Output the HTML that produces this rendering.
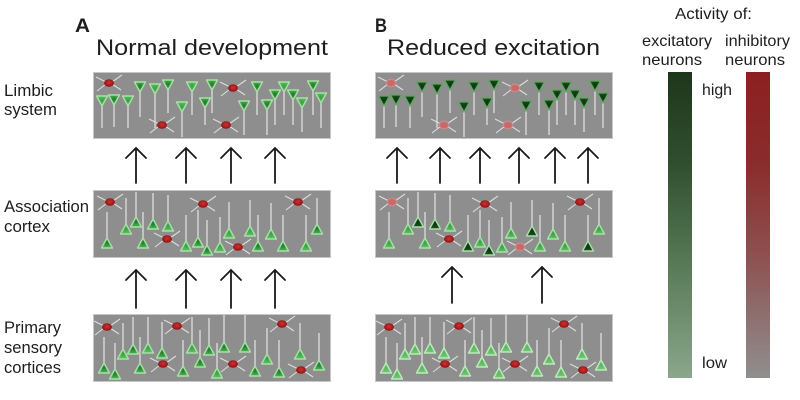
<!DOCTYPE html>
<html><head><meta charset="utf-8"><style>
html,body{margin:0;padding:0;background:#fff;}
svg{display:block;}
text{font-family:"Liberation Sans",Arial,sans-serif;fill:#1e1e1e;}
polygon{stroke-linejoin:round;}
</style></head><body>
<svg width="800" height="400" viewBox="0 0 800 400" xmlns="http://www.w3.org/2000/svg">
<defs>
<radialGradient id="gN" cx="50%" cy="45%" r="55%"><stop offset="0" stop-color="#1f7a2c"/><stop offset="1" stop-color="#4fb552"/></radialGradient>
<radialGradient id="gL" cx="50%" cy="45%" r="55%"><stop offset="0" stop-color="#3a9e44"/><stop offset="1" stop-color="#62c264"/></radialGradient>
<radialGradient id="gD" cx="50%" cy="45%" r="55%"><stop offset="0" stop-color="#0e3312"/><stop offset="1" stop-color="#1d4f20"/></radialGradient>
<radialGradient id="gP" cx="50%" cy="45%" r="55%"><stop offset="0" stop-color="#5cb35e"/><stop offset="1" stop-color="#78c77a"/></radialGradient>
<radialGradient id="rS" cx="50%" cy="45%" r="55%"><stop offset="0" stop-color="#d23030"/><stop offset="1" stop-color="#8a1414"/></radialGradient>
<radialGradient id="rF" cx="50%" cy="50%" r="55%"><stop offset="0" stop-color="#c46a6a"/><stop offset="0.6" stop-color="#c86a6a"/><stop offset="1" stop-color="#eaa0a0"/></radialGradient>
<linearGradient id="barG" x1="0" y1="0" x2="0" y2="1"><stop offset="0" stop-color="#1f361c"/><stop offset="0.3" stop-color="#304f2f"/><stop offset="0.6" stop-color="#547652"/><stop offset="1" stop-color="#8aa68c"/></linearGradient>
<linearGradient id="barR" x1="0" y1="0" x2="0" y2="1"><stop offset="0" stop-color="#8c2020"/><stop offset="0.3" stop-color="#8a2c2c"/><stop offset="0.6" stop-color="#8e5050"/><stop offset="1" stop-color="#8f8f8f"/></linearGradient>
<g id="red"><g stroke="#dcdcdc" stroke-width="1.1" fill="none"><path d="M-3,-1 L-13,-6"/><path d="M3,-1 L13,-8"/><path d="M-3,1 L-12,8"/><path d="M3,1 L12,7"/></g></g>
</defs>

<!-- labels -->
<text x="75" y="32" font-size="19" font-weight="bold" textLength="15" lengthAdjust="spacingAndGlyphs">A</text>
<text x="96" y="55" font-size="22" textLength="232" lengthAdjust="spacingAndGlyphs">Normal development</text>
<text x="375" y="32" font-size="19" font-weight="bold" textLength="12" lengthAdjust="spacingAndGlyphs">B</text>
<text x="387" y="55" font-size="22" textLength="213" lengthAdjust="spacingAndGlyphs">Reduced excitation</text>

<text x="4" y="96" font-size="17" textLength="49" lengthAdjust="spacingAndGlyphs">Limbic</text>
<text x="4" y="115" font-size="17" textLength="53" lengthAdjust="spacingAndGlyphs">system</text>
<text x="4" y="212" font-size="17" textLength="85" lengthAdjust="spacingAndGlyphs">Association</text>
<text x="4" y="232" font-size="17" textLength="46" lengthAdjust="spacingAndGlyphs">cortex</text>
<text x="4" y="333" font-size="17" textLength="57" lengthAdjust="spacingAndGlyphs">Primary</text>
<text x="4" y="353" font-size="17" textLength="58" lengthAdjust="spacingAndGlyphs">sensory</text>
<text x="4" y="373" font-size="17" textLength="57" lengthAdjust="spacingAndGlyphs">cortices</text>

<!-- legend -->
<text x="675" y="19" font-size="15.5" textLength="77" lengthAdjust="spacingAndGlyphs">Activity of:</text>
<text x="642" y="46" font-size="16" textLength="70" lengthAdjust="spacingAndGlyphs">excitatory</text>
<text x="642" y="65" font-size="16" textLength="60" lengthAdjust="spacingAndGlyphs">neurons</text>
<text x="725" y="46" font-size="16" textLength="65" lengthAdjust="spacingAndGlyphs">inhibitory</text>
<text x="725" y="65" font-size="16" textLength="60" lengthAdjust="spacingAndGlyphs">neurons</text>
<rect x="668" y="72" width="24" height="306" fill="url(#barG)"/>
<rect x="746" y="72" width="24" height="306" fill="url(#barR)"/>
<text x="702" y="95" font-size="16" textLength="30" lengthAdjust="spacingAndGlyphs">high</text>
<text x="702" y="368" font-size="16" textLength="25" lengthAdjust="spacingAndGlyphs">low</text>

<!-- arrows -->
<g stroke="#1a1a1a" stroke-width="1.8" fill="none" stroke-linecap="round">
<path d="M136,183V148M126,158L136,148L146,158"/>
<path d="M186,183V148M176,158L186,148L196,158"/>
<path d="M231,183V148M221,158L231,148L241,158"/>
<path d="M275,183V148M265,158L275,148L285,158"/>
<path d="M136,308V270M126,280L136,270L146,280"/>
<path d="M186,308V270M176,280L186,270L196,280"/>
<path d="M231,308V270M221,280L231,270L241,280"/>
<path d="M275,308V270M265,280L275,270L285,280"/>
<path d="M397,183V148M387,158L397,148L407,158"/>
<path d="M440,183V148M430,158L440,148L450,158"/>
<path d="M480,183V148M470,158L480,148L490,158"/>
<path d="M519,183V148M509,158L519,148L529,158"/>
<path d="M555,183V148M545,158L555,148L565,158"/>
<path d="M588,183V148M578,158L588,148L598,158"/>
<path d="M452,303V267M442,277L452,267L462,277"/>
<path d="M542,303V267M532,277L542,267L552,277"/>
</g>

<!-- boxes -->
<g fill="#8e8e8e" stroke="#c6c6cc" stroke-width="1">
<rect x="93.5" y="72.5" width="237" height="66"/>
<rect x="93.5" y="190.5" width="237" height="67"/>
<rect x="93.5" y="314.5" width="237" height="67"/>
<rect x="375.5" y="72.5" width="237" height="66"/>
<rect x="375.5" y="190.5" width="237" height="67"/>
<rect x="375.5" y="314.5" width="237" height="67"/>
</g>

<!-- ===== Panel A limbic ===== -->
<g stroke="#d4d4d4" stroke-width="1.5" fill="none">
<path d="M102,104V128M114,103V127M128,104V128M140,90V117M155,92V128M168,88V113M182,110V137M192,90V115M205,106V125M212,88V113M244,109V135M257,90V115M267,108V135M275,98V125M284,90V115M293,98V125M302,106V132M313,89V115M321,101V128"/>
</g>
<g stroke="#a6e0a6" stroke-width="1.4">
<polygon fill="url(#gL)" points="96.5,96 107.5,96 102,106"/>
<polygon fill="url(#gN)" points="108.5,95 119.5,95 114,105"/>
<polygon fill="url(#gL)" points="122.5,96 133.5,96 128,106"/>
<polygon fill="url(#gN)" points="134.5,82 145.5,82 140,92"/>
<polygon fill="url(#gL)" points="149.5,84 160.5,84 155,94"/>
<polygon fill="url(#gN)" points="162.5,80 173.5,80 168,90"/>
<polygon fill="url(#gL)" points="176.5,102 187.5,102 182,112"/>
<polygon fill="url(#gL)" points="186.5,82 197.5,82 192,92"/>
<polygon fill="url(#gN)" points="199.5,98 210.5,98 205,108"/>
<polygon fill="url(#gN)" points="206.5,80 217.5,80 212,90"/>
<polygon fill="url(#gN)" points="238.5,101 249.5,101 244,111"/>
<polygon fill="url(#gN)" points="251.5,82 262.5,82 257,92"/>
<polygon fill="url(#gN)" points="261.5,100 272.5,100 267,110"/>
<polygon fill="url(#gN)" points="269.5,90 280.5,90 275,100"/>
<polygon fill="url(#gL)" points="278.5,82 289.5,82 284,92"/>
<polygon fill="url(#gN)" points="287.5,90 298.5,90 293,100"/>
<polygon fill="url(#gL)" points="296.5,98 307.5,98 302,108"/>
<polygon fill="url(#gN)" points="307.5,81 318.5,81 313,91"/>
<polygon fill="url(#gL)" points="315.5,93 326.5,93 321,103"/>
</g>
<use href="#red" x="109" y="83"/><use href="#red" x="233" y="88"/><use href="#red" x="162" y="125"/><use href="#red" x="226" y="125"/>
<g fill="url(#rS)"><ellipse cx="109" cy="83" rx="5" ry="3.8"/><ellipse cx="233" cy="88" rx="5" ry="3.8"/><ellipse cx="162" cy="125" rx="5" ry="3.8"/><ellipse cx="226" cy="125" rx="5" ry="3.8"/></g>

<!-- ===== Panel B limbic ===== -->
<g transform="translate(282,0)">
<g stroke="#d4d4d4" stroke-width="1.5" fill="none">
<path d="M102,104V128M114,103V127M128,104V128M140,90V117M155,92V128M168,88V113M182,110V137M192,90V115M205,106V125M212,88V113M244,109V135M257,90V115M267,108V135M275,98V125M284,90V115M293,98V125M302,106V132M313,89V115M321,101V128"/>
</g>
<g stroke="#5fa85f" stroke-width="1.3" fill="url(#gD)">
<polygon points="96.5,96 107.5,96 102,106"/>
<polygon points="108.5,95 119.5,95 114,105"/>
<polygon points="122.5,96 133.5,96 128,106"/>
<polygon points="134.5,82 145.5,82 140,92"/>
<polygon points="149.5,84 160.5,84 155,94"/>
<polygon points="162.5,80 173.5,80 168,90"/>
<polygon points="176.5,102 187.5,102 182,112"/>
<polygon points="186.5,82 197.5,82 192,92"/>
<polygon points="199.5,98 210.5,98 205,108"/>
<polygon points="206.5,80 217.5,80 212,90"/>
<polygon points="238.5,101 249.5,101 244,111"/>
<polygon points="251.5,82 262.5,82 257,92"/>
<polygon points="261.5,100 272.5,100 267,110"/>
<polygon points="269.5,90 280.5,90 275,100"/>
<polygon points="278.5,82 289.5,82 284,92"/>
<polygon points="287.5,90 298.5,90 293,100"/>
<polygon points="296.5,98 307.5,98 302,108"/>
<polygon points="307.5,81 318.5,81 313,91"/>
<polygon points="315.5,93 326.5,93 321,103"/>
</g>
<use href="#red" x="109" y="83"/><use href="#red" x="233" y="88"/><use href="#red" x="162" y="125"/><use href="#red" x="226" y="125"/>
<g fill="url(#rF)"><ellipse cx="109" cy="83" rx="5.2" ry="4.2"/><ellipse cx="233" cy="88" rx="5.2" ry="4.2"/><ellipse cx="162" cy="125" rx="5.2" ry="4.2"/><ellipse cx="226" cy="125" rx="5.2" ry="4.2"/></g>
</g>

<!-- ===== Panel A association ===== -->
<g stroke="#d4d4d4" stroke-width="1.5" fill="none">
<path d="M107,238V212M126,224V198M136,217V192M143,238V212M153,219V193M168,221V195M186,241V215M198,237V210M207,245V220M220,242V217M229,228V202M250,226V200M258,241V215M271,229V203M283,241V215M306,241V215M317,224V198"/>
</g>
<g stroke="#a6e0a6" stroke-width="1.4">
<polygon fill="url(#gN)" points="107,238 112.5,248 101.5,248"/>
<polygon fill="url(#gL)" points="126,224 131.5,234 120.5,234"/>
<polygon fill="url(#gN)" points="136,217 141.5,227 130.5,227"/>
<polygon fill="url(#gN)" points="143,238 148.5,248 137.5,248"/>
<polygon fill="url(#gN)" points="153,219 158.5,229 147.5,229"/>
<polygon fill="url(#gL)" points="168,221 173.5,231 162.5,231"/>
<polygon fill="url(#gL)" points="186,241 191.5,251 180.5,251"/>
<polygon fill="url(#gN)" points="198,237 203.5,247 192.5,247"/>
<polygon fill="url(#gN)" points="207,245 212.5,255 201.5,255"/>
<polygon fill="url(#gL)" points="220,242 225.5,252 214.5,252"/>
<polygon fill="url(#gL)" points="229,228 234.5,238 223.5,238"/>
<polygon fill="url(#gL)" points="250,226 255.5,236 244.5,236"/>
<polygon fill="url(#gN)" points="258,241 263.5,251 252.5,251"/>
<polygon fill="url(#gL)" points="271,229 276.5,239 265.5,239"/>
<polygon fill="url(#gN)" points="283,241 288.5,251 277.5,251"/>
<polygon fill="url(#gL)" points="306,241 311.5,251 300.5,251"/>
<polygon fill="url(#gN)" points="317,224 322.5,234 311.5,234"/>
</g>
<use href="#red" x="110" y="202"/><use href="#red" x="203" y="204"/><use href="#red" x="167" y="239"/><use href="#red" x="238" y="247"/><use href="#red" x="298" y="202"/>
<g fill="url(#rS)"><ellipse cx="110" cy="202" rx="5" ry="3.8"/><ellipse cx="203" cy="204" rx="5" ry="3.8"/><ellipse cx="167" cy="239" rx="5" ry="3.8"/><ellipse cx="238" cy="247" rx="5" ry="3.8"/><ellipse cx="298" cy="202" rx="5" ry="3.8"/></g>

<!-- ===== Panel B association ===== -->
<g transform="translate(282,0)">
<g stroke="#d4d4d4" stroke-width="1.5" fill="none">
<path d="M107,238V212M126,224V198M136,217V192M143,238V212M153,219V193M168,221V195M186,241V215M198,237V210M207,245V220M220,242V217M229,228V202M250,226V200M258,241V215M271,229V203M283,241V215M306,241V215M317,224V198"/>
</g>
<g stroke="#a6e0a6" stroke-width="1.4">
<polygon fill="url(#gL)" points="107,238 112.5,248 101.5,248"/>
<polygon fill="url(#gL)" points="126,224 131.5,234 120.5,234"/>
<polygon fill="url(#gD)" points="136,217 141.5,227 130.5,227"/>
<polygon fill="url(#gL)" points="143,238 148.5,248 137.5,248"/>
<polygon fill="url(#gD)" points="153,219 158.5,229 147.5,229"/>
<polygon fill="url(#gL)" points="168,221 173.5,231 162.5,231"/>
<polygon fill="url(#gD)" points="186,241 191.5,251 180.5,251"/>
<polygon fill="url(#gL)" points="198,237 203.5,247 192.5,247"/>
<polygon fill="url(#gD)" points="207,245 212.5,255 201.5,255"/>
<polygon fill="url(#gL)" points="220,242 225.5,252 214.5,252"/>
<polygon fill="url(#gL)" points="229,228 234.5,238 223.5,238"/>
<polygon fill="url(#gD)" points="250,226 255.5,236 244.5,236"/>
<polygon fill="url(#gL)" points="258,241 263.5,251 252.5,251"/>
<polygon fill="url(#gL)" points="271,229 276.5,239 265.5,239"/>
<polygon fill="url(#gL)" points="283,241 288.5,251 277.5,251"/>
<polygon fill="url(#gD)" points="306,241 311.5,251 300.5,251"/>
<polygon fill="url(#gL)" points="317,224 322.5,234 311.5,234"/>
</g>
<use href="#red" x="110" y="202"/><use href="#red" x="203" y="204"/><use href="#red" x="167" y="239"/><use href="#red" x="238" y="247"/><use href="#red" x="298" y="202"/>
<g fill="url(#rF)"><ellipse cx="110" cy="202" rx="5.2" ry="4.2"/><ellipse cx="238" cy="247" rx="5.2" ry="4.2"/></g>
<g fill="url(#rS)"><ellipse cx="203" cy="204" rx="5" ry="3.8"/><ellipse cx="167" cy="239" rx="5" ry="3.8"/><ellipse cx="298" cy="202" rx="5" ry="3.8"/></g>
</g>

<!-- ===== Panel A primary ===== -->
<g stroke="#d4d4d4" stroke-width="1.5" fill="none">
<path d="M104,363V337M115,369V343M123,349V323M133,344V317M140,363V337M148,343V317M162,348V322M183,366V340M192,343V317M200,357V330M209,345V318M217,368V343M224,342V315M245,342V315M255,366V340M267,354V328M279,367V340M300,349V323M319,360V333"/>
</g>
<g stroke="#a6e0a6" stroke-width="1.4">
<polygon fill="url(#gN)" points="104,363 109.5,373 98.5,373"/>
<polygon fill="url(#gN)" points="115,369 120.5,379 109.5,379"/>
<polygon fill="url(#gL)" points="123,349 128.5,359 117.5,359"/>
<polygon fill="url(#gN)" points="133,344 138.5,354 127.5,354"/>
<polygon fill="url(#gN)" points="140,363 145.5,373 134.5,373"/>
<polygon fill="url(#gL)" points="148,343 153.5,353 142.5,353"/>
<polygon fill="url(#gN)" points="162,348 167.5,358 156.5,358"/>
<polygon fill="url(#gN)" points="183,366 188.5,376 177.5,376"/>
<polygon fill="url(#gL)" points="192,343 197.5,353 186.5,353"/>
<polygon fill="url(#gN)" points="200,357 205.5,367 194.5,367"/>
<polygon fill="url(#gN)" points="209,345 214.5,355 203.5,355"/>
<polygon fill="url(#gL)" points="217,368 222.5,378 211.5,378"/>
<polygon fill="url(#gN)" points="224,342 229.5,352 218.5,352"/>
<polygon fill="url(#gN)" points="245,342 250.5,352 239.5,352"/>
<polygon fill="url(#gN)" points="255,366 260.5,376 249.5,376"/>
<polygon fill="url(#gL)" points="267,354 272.5,364 261.5,364"/>
<polygon fill="url(#gN)" points="279,367 284.5,377 273.5,377"/>
<polygon fill="url(#gL)" points="300,349 305.5,359 294.5,359"/>
<polygon fill="url(#gN)" points="319,360 324.5,370 313.5,370"/>
</g>
<use href="#red" x="107" y="327"/><use href="#red" x="177" y="326"/><use href="#red" x="163" y="364"/><use href="#red" x="233" y="364"/><use href="#red" x="282" y="324"/><use href="#red" x="301" y="370"/>
<g fill="url(#rS)"><ellipse cx="107" cy="327" rx="5" ry="3.8"/><ellipse cx="177" cy="326" rx="5" ry="3.8"/><ellipse cx="163" cy="364" rx="5" ry="3.8"/><ellipse cx="233" cy="364" rx="5" ry="3.8"/><ellipse cx="282" cy="324" rx="5" ry="3.8"/><ellipse cx="301" cy="370" rx="5" ry="3.8"/></g>

<!-- ===== Panel B primary ===== -->
<g transform="translate(282,0)">
<g stroke="#d4d4d4" stroke-width="1.5" fill="none">
<path d="M104,363V337M115,369V343M123,349V323M133,344V317M140,363V337M148,343V317M162,348V322M183,366V340M192,343V317M200,357V330M209,345V318M217,368V343M224,342V315M245,342V315M255,366V340M267,354V328M279,367V340M300,349V323M319,360V333"/>
</g>
<g stroke="#b8ecb8" stroke-width="1.4" fill="url(#gP)">
<polygon points="104,363 109.5,373 98.5,373"/>
<polygon points="115,369 120.5,379 109.5,379"/>
<polygon points="123,349 128.5,359 117.5,359"/>
<polygon points="133,344 138.5,354 127.5,354"/>
<polygon points="140,363 145.5,373 134.5,373"/>
<polygon points="148,343 153.5,353 142.5,353"/>
<polygon points="162,348 167.5,358 156.5,358"/>
<polygon points="183,366 188.5,376 177.5,376"/>
<polygon points="192,343 197.5,353 186.5,353"/>
<polygon points="200,357 205.5,367 194.5,367"/>
<polygon points="209,345 214.5,355 203.5,355"/>
<polygon points="217,368 222.5,378 211.5,378"/>
<polygon points="224,342 229.5,352 218.5,352"/>
<polygon points="245,342 250.5,352 239.5,352"/>
<polygon points="255,366 260.5,376 249.5,376"/>
<polygon points="267,354 272.5,364 261.5,364"/>
<polygon points="279,367 284.5,377 273.5,377"/>
<polygon points="300,349 305.5,359 294.5,359"/>
<polygon points="319,360 324.5,370 313.5,370"/>
</g>
<use href="#red" x="107" y="327"/><use href="#red" x="177" y="326"/><use href="#red" x="163" y="364"/><use href="#red" x="233" y="364"/><use href="#red" x="282" y="324"/><use href="#red" x="301" y="370"/>
<g fill="url(#rS)"><ellipse cx="107" cy="327" rx="5" ry="3.8"/><ellipse cx="177" cy="326" rx="5" ry="3.8"/><ellipse cx="163" cy="364" rx="5" ry="3.8"/><ellipse cx="233" cy="364" rx="5" ry="3.8"/><ellipse cx="282" cy="324" rx="5" ry="3.8"/><ellipse cx="301" cy="370" rx="5" ry="3.8"/></g>
</g>
</svg>
</body></html>
